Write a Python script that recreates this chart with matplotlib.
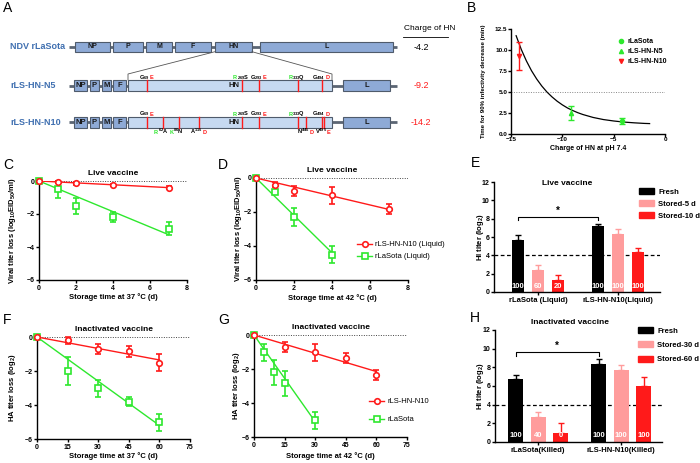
import numpy as np
import matplotlib as mpl
import matplotlib.pyplot as plt
from matplotlib.lines import Line2D
from matplotlib.patches import Rectangle, Patch

mpl.rcParams['font.family'] = ['Liberation Sans', 'DejaVu Sans']
mpl.rcParams['font.weight'] = 'bold'
mpl.rcParams['axes.labelweight'] = 'bold'
mpl.rcParams['mathtext.default'] = 'regular'

RED = '#ff1a1a'
GREEN = '#2ee82e'
PINK = '#ff9c9c'
BLUE_TXT = '#3f6fb0'

# ---------------- data ----------------
# A: HN charge
viruses = ['NDV rLaSota', 'rLS-HN-N5', 'rLS-HN-N10']
hn_charge = ['-4.2', '-9.2', '-14.2']
genes = ['NP', 'P', 'M', 'F', 'HN', 'L']
# (first aa, position, new aa)
n5_muts = [('G', '69', 'E'), ('R', '269', 'S'), ('G', '293', 'E'), ('R', '333', 'Q'), ('G', '494', 'D')]
n10_extra = [('R', '62', 'A'), ('K', '86', 'N'), ('A', '115', 'D'), ('N', '445', 'D'), ('V', '495', 'E')]

# B: time for 90% infectivity decrease vs charge
b_names = ['rLaSota', 'rLS-HN-N5', 'rLS-HN-N10']
charge = [-4.2, -9.2, -14.2]
t90 = [1.5, 2.5, 9.3]
t90_err = [0.35, 0.85, 1.7]
curve_x = [-14.5, -14, -13.5, -13, -12.5, -12, -11.5, -11, -10.5, -10, -9.5,
           -9, -8.5, -8, -7, -6, -5, -4, -3, -2, -1.5]
curve_y = [11.7, 10.07, 8.70, 7.53, 6.55, 5.71, 5.0, 4.41, 3.90, 3.47, 3.10,
           2.80, 2.54, 2.32, 1.97, 1.72, 1.55, 1.42, 1.33, 1.26, 1.24]

# C: live vaccine, 37 C
c_days = [0, 1, 2, 4, 7]
c_n10 = [0, -0.05, -0.15, -0.25, -0.4]
c_n10_err = [0, 0.08, 0.08, 0.08, 0.1]
c_n10_fit = [0, -0.4]
c_ls = [0, -0.5, -1.5, -2.2, -2.9]
c_ls_err = [0, 0.5, 0.5, 0.3, 0.4]
c_ls_fit = [0, -3.25]

# D: live vaccine, 42 C
d_days_n10 = [0, 1, 2, 4, 7]
d_n10 = [0, -0.4, -0.75, -1.0, -1.8]
d_n10_err = [0, 0.15, 0.3, 0.5, 0.3]
d_n10_fit = [0, -1.85]
d_days_ls = [0, 1, 2, 4]
d_ls = [0, -0.8, -2.3, -4.5]
d_ls_err = [0, 0.1, 0.55, 0.5]
d_ls_fit = [0, -4.4]

# F: inactivated vaccine, 37 C
f_days = [0, 15, 30, 45, 60]
f_n10 = [0, -0.2, -0.7, -0.85, -1.5]
f_n10_err = [0, 0.2, 0.3, 0.3, 0.5]
f_n10_fit = [0, -1.35]
f_ls = [0, -2.0, -3.0, -3.8, -5.0]
f_ls_err = [0, 0.85, 0.5, 0.25, 0.5]
f_ls_fit = [0, -5.2]

# G: inactivated vaccine, 42 C
g_days_n10 = [0, 15, 30, 45, 60]
g_n10 = [0, -0.7, -1.0, -1.35, -2.35]
g_n10_err = [0, 0.3, 0.5, 0.3, 0.3]
g_n10_fit = [0, -2.15]
g_days_ls = [0, 5, 10, 15, 30]
g_ls = [0, -1.0, -2.2, -2.85, -5.0]
g_ls_err = [0, 0.5, 0.75, 0.75, 0.5]
g_ls_fit = [0, -5.1]

# E / H: HI titers
e_groups = ['rLaSota (Liquid)', 'rLS-HN-N10(Liquid)']
e_series = ['Fresh', 'Stored-5 d', 'Stored-10 d']
e_means = [[5.7, 7.2], [2.35, 6.35], [1.35, 4.35]]
e_errs = [[0.5, 0.25], [0.55, 0.5], [0.55, 0.5]]
e_pct = [['100', '100'], ['60', '100'], ['20', '100']]

h_groups = ['rLaSota(Killed)', 'rLS-HN-N10(Killed)']
h_series = ['Fresh', 'Stored-30 d', 'Stored-60 d']
h_means = [[6.7, 8.4], [2.7, 7.7], [1.0, 6.0]]
h_errs = [[0.5, 0.5], [0.5, 0.5], [1.0, 1.0]]
h_pct = [['100', '100'], ['40', '100'], ['0', '100']]

# ---------------- figure ----------------
W, H = 700, 463
fig = plt.figure(figsize=(7.0, 4.63), dpi=100)


def rect(l, t, r, b):
    return [l / W, 1 - b / H, (r - l) / W, (b - t) / H]


def style(ax):
    for s in ['top', 'right']:
        ax.spines[s].set_visible(False)
    for s in ['left', 'bottom']:
        ax.spines[s].set_linewidth(1.0)
    ax.tick_params(direction='out', length=2.5, width=1.0, labelsize=5, pad=0.8)


def place_labels(ax, box, xlab_y, ylab_x):
    l, t, r, b = box
    ax.xaxis.set_label_coords(0.5, (b - xlab_y) / (b - t))
    ax.xaxis.label.set_va('center')
    ax.yaxis.set_label_coords((ylab_x - l) / (r - l), 0.5)
    ax.yaxis.label.set_va('center')


def leg(ax, handles, labels, x, y, **kw):
    ax.legend(handles, labels, loc='upper left', bbox_to_anchor=(x / W, 1 - y / H),
              bbox_transform=fig.transFigure, frameon=False, borderpad=0,
              borderaxespad=0, **kw)


# panel letters
for letter, x, y in [('A', 3, 8), ('B', 467, 8), ('C', 3, 165), ('D', 218, 165),
                     ('E', 471, 163), ('F', 3, 320), ('G', 218, 320), ('H', 470, 318)]:
    fig.text(x / W, 1 - y / H, letter, fontsize=10, fontweight='normal', va='center', ha='left')

# ---------------- A: schematic ----------------
axa = fig.add_axes(rect(0, 0, 470, 140))
axa.set_xlim(0, 470)
axa.set_ylim(140, 0)
axa.axis('off')

GENE_FILL = '#8eaad6'
HN_FILL = '#c6d9f1'
EDGE = '#4f5b6b'
row_y = [46.7, 85.5, 122.3]
row1_spans = [(75, 110), (113, 143), (146, 172), (175, 211), (215, 252), (260, 393)]
row23_spans = [(74, 87), (90, 99), (102, 111), (113, 126), (128, 332), (343, 390)]

for i, name in enumerate(viruses):
    y = row_y[i]
    axa.text(10, y, name, color=BLUE_TXT, fontsize=6.5, ha='left', va='center')
    spans = row1_spans if i == 0 else row23_spans
    axa.plot([69, 397], [y, y], color='#5b6573', lw=2, solid_capstyle='butt', zorder=1)
    for g, (x0, x1) in zip(genes, spans):
        h = 10 if i == 0 else 11
        fill = HN_FILL if (i > 0 and g == 'HN') else GENE_FILL
        axa.add_patch(Rectangle((x0, y - h / 2), x1 - x0, h, facecolor=fill,
                                edgecolor=EDGE, lw=0.8, zorder=2))
        tx = (x0 + x1) / 2
        if i > 0 and g == 'HN':
            tx = 234
        axa.text(tx, y + 0.3, g, fontsize=5 if i == 0 else 5.5, ha='center', va='center',
                 color='#1a1a1a', zorder=3)

# zoom lines from HN to the expanded HN
axa.plot([215, 128, 128], [51.7, 74, 80], color='#555555', lw=0.6)
axa.plot([252, 332, 332], [51.7, 74, 80], color='#555555', lw=0.6)

# mutation positions on the expanded HN
n5_x = [146.7, 242.3, 259.3, 297.7, 322.3]
n10_extra_x = [163.3, 179, 199, 306, 323.8]


def mut_label(x, y, first, num, last, sup=False, va='baseline'):
    num_s = ('$^{%s}$' if sup else '$_{%s}$') % num
    fc = GREEN if first in ('R', 'K') else 'black'
    lc = RED if last in ('E', 'D') else 'black'
    kw = dict(fontsize=4.1, va=va)
    if fc != 'black':
        axa.text(x - 5.5, y, first, color=fc, ha='right', **kw)
        axa.text(x - 5.5, y, num_s + last, color='black', ha='left', **kw)
    else:
        axa.text(x + 3.3, y, first + num_s, color='black', ha='right', **kw)
        axa.text(x + 3.3, y, last, color=lc, ha='left', **kw)


for r, yc in [(1, row_y[1]), (2, row_y[2])]:
    xs = n5_x + (n10_extra_x if r == 2 else [])
    for x in xs:
        axa.plot([x, x], [yc - 5.5, yc + 5.5], color=RED, lw=1.0, zorder=3)
    for x, (a, n, b) in zip(n5_x, n5_muts):
        mut_label(x, yc - 6.8, a, n, b)
for x, (a, n, b) in zip(n10_extra_x, n10_extra):
    mut_label(x, row_y[2] + 11.5, a, n, b, sup=True)

# charge column
axa.text(430, 29, 'Charge of HN', fontsize=6, fontweight='normal', ha='center', va='center')
axa.plot([403, 448], [37, 37], color='black', lw=0.6)
for yv, s, c in zip(row_y, hn_charge, ['black', RED, RED]):
    axa.text(421, yv + 0.5, s, fontsize=6.5, fontweight='normal', color=c, ha='center', va='center')

# ---------------- B ----------------
bbox = (511, 29, 665, 134)
axb = fig.add_axes(rect(*bbox))
style(axb)
axb.tick_params(length=2, labelsize=4.6, pad=0.5)
axb.plot(curve_x, curve_y, color='black', lw=0.9)
axb.axhline(5, color='#888888', ls=(0, (1, 1.5)), lw=0.7)
b_markers = ['o', '^', 'v']
b_colors = [GREEN, GREEN, RED]
for x, y, e, m, c, n in zip(charge, t90, t90_err, b_markers, b_colors, b_names):
    axb.errorbar([x], [y], yerr=[e], fmt=m, color=c, ms=3, capsize=2, elinewidth=1,
                 capthick=1, zorder=4)
axb.set_xlim(-15, 0)
axb.set_ylim(0, 12.5)
axb.set_xticks([-15, -10, -5, 0])
axb.set_yticks([0, 2.5, 5, 7.5, 10, 12.5])
axb.set_yticklabels(['0.0', '2.5', '5.0', '7.5', '10.0', '12.5'])
axb.set_xlabel('Charge of HN at pH 7.4', fontsize=5)
axb.set_ylabel('Time for 90% infectivity decrease (min)', fontsize=4.4)
place_labels(axb, bbox, 149, 484)
bh = [Line2D([], [], ls='none', marker=m, color=c, ms=3) for m, c in zip(b_markers, b_colors)]
leg(axb, bh, b_names, 618, 38, fontsize=5, handlelength=1, handletextpad=0.3, labelspacing=0.45)


# ---------------- line panels ----------------
def line_panel(box, title, xmax, xstep, series, xlabel, ylabel, xlab_y, ylab_x):
    ax = fig.add_axes(rect(*box))
    style(ax)
    ax.axhline(0, color='#444444', ls=(0, (1, 1.5)), lw=0.7, zorder=1)
    for x, y, err, fit, c, m in series:
        ax.plot([x[0], x[-1]], fit, color=c, lw=1.0, zorder=2)
        ax.errorbar(x, y, yerr=err, fmt=m, color=c, mfc='white', mec=c, ms=4, mew=1.2,
                    capsize=2, elinewidth=1.2, capthick=1.2, clip_on=False, zorder=3)
    ax.set_xlim(0, xmax)
    ax.set_ylim(-6, 0)
    ax.set_xticks(np.arange(0, xmax + 1, xstep))
    ax.set_yticks([-6, -4, -2, 0])
    ax.set_title(title, fontsize=6, fontweight='bold', pad=4)
    ax.set_xlabel(xlabel, fontsize=5.5)
    ax.set_ylabel(ylabel, fontsize=5.5)
    place_labels(ax, box, xlab_y, ylab_x)
    return ax


viral = 'Viral titer loss (log$_{10}$EID$_{50}$/ml)'
ha_loss = 'HA titer loss (log$_{2}$)'

line_panel((39, 181, 187, 280), 'Live vaccine', 8, 2,
           [(c_days, c_ls, c_ls_err, c_ls_fit, GREEN, 's'),
            (c_days, c_n10, c_n10_err, c_n10_fit, RED, 'o')],
           'Storage time at 37 \u00b0C (d)', viral, 297, 13)

axd = line_panel((256, 178, 408, 280), 'Live vaccine', 8, 2,
                 [(d_days_ls, d_ls, d_ls_err, d_ls_fit, GREEN, 's'),
                  (d_days_n10, d_n10, d_n10_err, d_n10_fit, RED, 'o')],
                 'Storage time at 42 \u00b0C (d)', viral, 298, 238)
hd = [Line2D([], [], color=RED, marker='o', mfc='white', ms=4, mew=1.2, lw=1),
      Line2D([], [], color=GREEN, marker='s', mfc='white', ms=4, mew=1.2, lw=1)]
leg(axd, hd, ['rLS-HN-N10 (Liquid)', 'rLaSota (Liquid)'], 357, 241,
    fontsize=5.5, handlelength=2, handletextpad=0.4, labelspacing=0.6)
for t in axd.get_legend().get_texts():
    t.set_fontweight('normal')

line_panel((37, 337, 190, 439), 'Inactivated vaccine', 75, 15,
           [(f_days, f_ls, f_ls_err, f_ls_fit, GREEN, 's'),
            (f_days, f_n10, f_n10_err, f_n10_fit, RED, 'o')],
           'Storage time at 37 \u00b0C (d)', ha_loss, 456, 13)

axg = line_panel((254, 335, 407, 437), 'Inactivated vaccine', 75, 15,
                 [(g_days_ls, g_ls, g_ls_err, g_ls_fit, GREEN, 's'),
                  (g_days_n10, g_n10, g_n10_err, g_n10_fit, RED, 'o')],
                 'Storage time at 42 \u00b0C (d)', ha_loss, 456, 236.5)
leg(axg, hd, ['rLS-HN-N10', 'rLaSota'], 369, 398,
    fontsize=5.5, handlelength=2, handletextpad=0.4, labelspacing=1.4)
for t in axg.get_legend().get_texts():
    t.set_fontweight('normal')


# ---------------- bar panels ----------------
def bar_panel(box, title, title_xy, groups, series, means, errs, pcts, off, width, xlim,
              br_y, ylab_x, leg_xy, leg_sp):
    ax = fig.add_axes(rect(*box))
    style(ax)
    gx = np.arange(len(groups))
    colors = ['black', PINK, RED]
    for k, (name, m, e, p) in enumerate(zip(series, means, errs, pcts)):
        xs = gx + (k - 1) * off
        ax.bar(xs, m, width, color=colors[k], label=name, zorder=2,
               yerr=[np.zeros(len(e)), e],
               error_kw=dict(ecolor=colors[k], lw=1, capsize=2.5, capthick=1))
        for xx, s in zip(xs, p):
            ax.text(xx, 0.65, s, color='white', fontsize=5.5, ha='center', va='center', zorder=3)
    ax.axhline(4, color='black', ls=(0, (3, 2)), lw=0.9, zorder=1)
    # significance bracket between the fresh bars
    x0, x1 = gx[0] - off, gx[1] - off
    ax.plot([x0, x0, x1, x1], [br_y - 0.35, br_y, br_y, br_y - 0.35], color='black', lw=0.8)
    ax.text((x0 + x1) / 2, br_y + 0.15, '*', fontsize=7, ha='center', va='bottom')
    ax.set_xlim(*xlim)
    ax.set_ylim(0, 12)
    ax.set_yticks(range(0, 13, 2))
    ax.set_xticks(gx)
    ax.set_xticklabels(groups)
    ax.tick_params(axis='x', length=2.5, labelsize=5.5, pad=1)
    l, t, r, b = box
    ax.text((title_xy[0] - l) / (r - l), (b - title_xy[1]) / (b - t), title,
            transform=ax.transAxes, fontsize=6, ha='center', va='center')
    ax.set_ylabel('HI titer (log$_{2}$)', fontsize=5.5)
    ax.yaxis.set_label_coords((ylab_x - l) / (r - l), 0.5)
    ax.yaxis.label.set_va('center')
    hh = [Patch(color=c) for c in colors]
    leg(ax, hh, series, leg_xy[0], leg_xy[1], fontsize=5.5, handlelength=2,
        handleheight=0.8, handletextpad=0.5, labelspacing=leg_sp)
    return ax


bar_panel((494, 182, 660, 292), 'Live vaccine', (567, 183), e_groups, e_series,
          e_means, e_errs, e_pct, 0.25, 0.15, (-0.55, 1.52), 8.2, 480,
          (639, 188), 0.6)
bar_panel((495, 330, 662, 442), 'Inactivated vaccine', (570, 323), h_groups, h_series,
          h_means, h_errs, h_pct, 0.27, 0.18, (-0.52, 1.49), 9.6, 480,
          (638, 327), 0.9)

fig.savefig('out.png', dpi=100)
